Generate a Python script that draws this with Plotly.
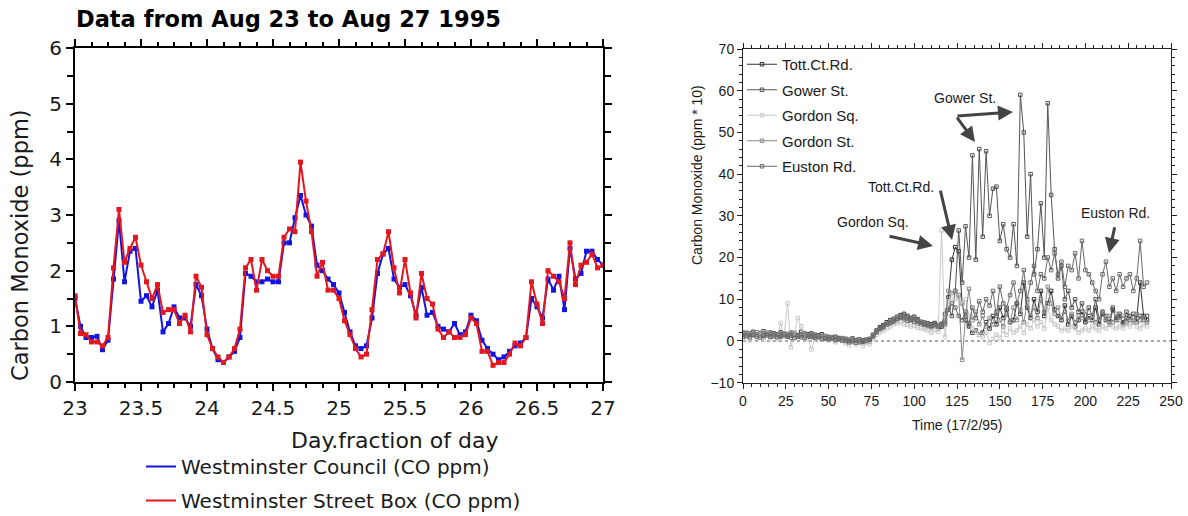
import plotly.graph_objects as go

# ---------------- Left panel data (hourly, Aug 23 - Aug 27 1995) ----------------
hours = list(range(97))
day_fraction = [23 + h / 24 for h in hours]

council_co = [
    1.5, 1.0, 0.8, 0.8, 0.82, 0.58, 0.75, 1.85, 2.9, 1.8,
    2.35, 2.4, 1.45, 1.55, 1.35, 1.65, 0.9, 1.05, 1.35, 1.15,
    1.15, 1.0, 1.75, 1.55, 0.95, 0.6, 0.4, 0.35, 0.45, 0.55,
    0.8, 1.95, 1.9, 1.8, 1.8, 1.85, 1.8, 1.8, 2.5, 2.5,
    2.95, 3.35, 3.0, 2.8, 2.1, 2.0, 1.85, 1.75, 1.6, 1.25,
    0.9, 0.65, 0.6, 0.65, 1.15, 1.95, 2.3, 2.4, 1.85, 1.7,
    1.75, 1.55, 1.2, 1.7, 1.2, 1.25, 1.0, 0.95, 0.9, 1.05,
    0.85, 0.9, 1.2, 1.1, 0.75, 0.6, 0.5, 0.4, 0.45, 0.55,
    0.65, 0.7, 0.8, 1.5, 1.35, 1.15, 1.85, 1.65, 1.9, 1.3,
    2.4, 1.85, 1.95, 2.35, 2.35, 2.2, 2.1,
]
streetbox_co = [
    1.55, 0.87, 0.85, 0.72, 0.72, 0.65, 0.8, 2.05, 3.1, 2.15,
    2.4, 2.6, 2.1, 1.8, 1.5, 1.75, 1.25, 1.3, 1.3, 1.05,
    1.2, 0.9, 1.9, 1.7, 0.85, 0.6, 0.45, 0.35, 0.45, 0.6,
    0.95, 2.05, 2.2, 1.65, 2.2, 2.0, 1.9, 1.9, 2.6, 2.75,
    2.7, 3.95, 3.25, 2.7, 1.9, 2.15, 1.65, 1.65, 1.5, 1.1,
    0.85, 0.6, 0.45, 0.5, 1.3, 2.2, 2.3, 2.7, 2.05, 1.6,
    2.2, 1.6, 1.15, 1.95, 1.5, 1.4, 0.95, 0.8, 0.9, 0.8,
    0.8, 0.85, 1.15, 1.05, 0.55, 0.55, 0.3, 0.35, 0.35, 0.5,
    0.7, 0.65, 0.8, 1.8, 1.4, 1.05, 2.0, 1.9, 1.8, 1.5,
    2.5, 1.75, 2.1, 2.15, 2.3, 2.05, 2.1,
]
left_names = ["Westminster Council (CO ppm)", "Westminster Street Box (CO ppm)"]
left_colors = ["rgb(20,20,225)", "rgb(228,22,30)"]

# ---------------- Right panel data (ppm*10, 17/2/95) ----------------
time_min = list(range(0, 238, 2))

tott_ct_rd = [
    2.0, 1.8, 1.5, 2.2, 1.6, 1.9, 2.3, 1.7, 2.0, 1.8,
    1.6, 2.1, 1.8, 1.5, 2.0, 1.9, 1.4, 2.2, 1.7, 1.6,
    1.8, 1.5, 1.3, 1.6, 1.2, 0.9, 0.8, 1.0, 0.7, 0.6,
    0.5, 0.3, 0.6, 0.2, 0.4, 0.1, 0.3, 0.5, 1.5, 2.5,
    3.3, 3.8, 4.5, 5.0, 5.3, 5.8, 6.2, 6.5, 6.0, 5.5,
    5.8, 5.2, 4.6, 4.4, 4.2, 4.0, 4.3, 3.8, 4.1, 6.5,
    10.5, 19.5, 22.5, 21.5, 9.0, 5.0, 3.5, 2.0, 2.5, 1.5,
    2.0, 4.5, 3.0, 6.0, 4.0, 8.0, 5.5, 7.5, 4.5, 5.0,
    9.0, 6.5, 14.0, 8.0, 5.5, 10.0, 7.0, 12.0, 6.0, 9.0,
    12.0, 7.5, 6.0, 5.0, 8.5, 4.0, 6.0, 3.5, 5.0, 7.0,
    4.5, 6.0, 5.0, 8.0, 4.0, 6.5, 5.0, 4.0, 7.5, 5.5,
    6.0, 4.5, 5.5, 6.0, 4.5, 5.5, 14.0, 6.0, 5.0,
]
gower_st = [
    1.5, 1.2, 1.8, 1.4, 1.6, 1.3, 1.1, 1.5, 1.2, 1.4,
    1.3, 1.0, 1.4, 1.2, 0.8, 1.5, 1.1, 0.9, 1.3, 1.0,
    1.2, 1.0, 0.8, 1.1, 0.6, 0.5, 0.7, 0.4, 0.3, 0.5,
    0.2, 0.0, -0.2, 0.1, -0.3, 0.0, 0.2, -0.1, 1.0, 2.0,
    2.8, 3.2, 3.9, 4.2, 4.6, 5.0, 5.5, 5.2, 4.8, 5.0,
    4.6, 4.2, 3.9, 3.6, 3.5, 3.3, 3.5, 3.0, 3.4, 4.5,
    8.0, 6.0, 12.0, 26.5, 14.0, 27.5, 20.0, 44.5, 19.5, 46.0,
    25.0, 45.5, 30.0, 36.5, 37.0, 24.0, 28.0, 22.0, 20.0, 28.0,
    18.0, 59.0, 50.0, 25.0, 40.0, 16.0, 22.0, 33.0, 20.0, 57.0,
    35.0, 22.0, 15.0, 18.0, 10.0, 12.0, 8.0, 10.0, 7.0, 9.0,
    5.0, 8.0, 6.0, 10.0, 5.0, 7.0, 6.0, 4.5, 8.0, 5.0,
    6.5, 4.0, 7.0, 5.0, 6.5, 4.5, 6.0, 5.0, 6.0,
]
gordon_sq = [
    0.5, 1.0, 0.2, 1.5, 0.8, 2.0, 0.3, 1.2, 0.6, 1.0,
    0.4, 4.3, 1.0, 9.0, -1.5, 2.0, 5.5, 3.5, 1.0, 0.5,
    -2.0, 0.5, 0.8, 0.3, 1.0, 0.2, 0.5, -0.3, 0.4, 0.0,
    -0.5, -1.0, -0.3, -0.8, -0.2, -1.2, -0.5, -0.8, 0.5, 1.5,
    2.0, 2.5, 3.0, 3.5, 4.0, 4.2, 4.5, 4.0, 3.8, 3.5,
    3.6, 3.2, 3.0, 2.8, 2.5, 2.0, 2.6, 2.2, 26.5, 1.0,
    9.5, 10.0, 10.0, 10.5, 9.0, 10.0, 6.0, 3.0, 2.0, 1.5,
    1.0, 2.0, -0.5, 0.5, 1.5, 0.8, 2.5, 1.5, 3.0, 2.0,
    2.5, 3.5, 2.0, 4.0, 3.0, 5.0, 3.5, 4.5, 3.0, 8.0,
    5.0, 4.0, 3.5, 2.5, 3.0, 2.5, 3.5, 3.0, 2.0, 2.5,
    3.0, 2.5, 3.5, 3.0, 2.5, 3.5, 3.0, 4.0, 3.5, 3.0,
    3.5, 3.0, 4.0, 3.5, 4.5, 3.5, 3.0, 4.0, 3.5,
]
gordon_st = [
    1.8, 2.0, 1.6, 1.9, 2.1, 1.7, 1.5, 2.0, 1.8, 1.6,
    1.5, 1.9, 1.7, 1.3, 1.8, 1.6, 1.2, 1.5, 1.9, 1.4,
    1.5, 1.3, 1.0, 1.2, 0.8, 1.0, 0.6, 0.8, 0.5, 0.7,
    0.4, 0.2, 0.5, 0.0, 0.3, -0.2, 0.1, 0.4, 1.3, 2.3,
    3.0, 3.4, 4.2, 4.6, 5.0, 5.5, 6.0, 5.8, 5.4, 5.2,
    5.5, 5.0, 4.5, 4.2, 4.0, 3.8, 4.0, 3.6, 3.9, 5.0,
    12.0, 11.5, 12.0, 11.0, -4.5, 6.0, 12.5, 5.0, 7.0, 4.0,
    6.0, 3.5, 5.5, 4.0, 7.0, 5.0, 3.5, 6.5, 4.5, 8.0,
    5.0, 7.5, 4.5, 9.0, 6.0, 8.0, 5.5, 10.0, 7.0, 13.0,
    9.0, 6.5, 8.0, 5.5, 7.0, 5.0, 6.5, 4.5, 6.0, 5.5,
    7.0, 5.0, 6.0, 4.5, 5.5, 7.0, 5.0, 6.0, 4.5, 6.5,
    5.0, 6.0, 4.5, 5.5, 5.0, 6.5, 5.0, 5.5, 4.5,
]
euston_rd = [
    1.0, 1.3, 0.9, 1.5, 1.1, 0.8, 1.2, 1.4, 1.0, 1.3,
    0.9, 1.2, 1.5, 1.0, 1.3, 0.7, 1.1, 1.4, 0.8, 1.2,
    1.0, 0.8, 1.1, 0.5, 0.7, 0.4, 0.6, 0.2, 0.4, 0.1,
    0.0, -0.3, 0.1, -0.4, -0.1, -0.2, 0.0, 0.3, 1.2, 2.2,
    3.0, 3.5, 4.0, 4.4, 4.8, 5.3, 5.8, 6.0, 5.6, 5.0,
    5.2, 4.8, 4.3, 4.0, 3.8, 3.6, 3.9, 3.5, 3.7, 4.0,
    7.5, 9.0, 8.0, 6.0, 5.0, 7.0, 4.0, 8.0, 5.5, 9.5,
    7.0, 10.0, 8.5, 12.0, 6.0, 13.0, 9.0, 8.0, 11.0, 14.0,
    9.0, 12.0, 17.0, 10.0, 14.0, 18.0, 12.0, 16.0, 15.0, 20.0,
    17.0, 21.0, 16.0, 19.0, 13.0, 18.0, 17.0, 21.0, 15.0, 24.0,
    17.0, 16.0, 14.0, 12.0, 10.0, 16.0, 19.0, 13.0, 15.0, 12.0,
    16.0, 13.0, 15.0, 16.0, 12.0, 15.0, 24.0, 13.0, 14.0,
]
right_names = ["Tott.Ct.Rd.", "Gower St.", "Gordon Sq.", "Gordon St.", "Euston Rd."]
right_series = [tott_ct_rd, gower_st, gordon_sq, gordon_st, euston_rd]
right_colors = ["#333333", "#555555", "#c8c8c8", "#8a8a8a", "#6a6a6a"]

W, H = 1188, 516
def px(x):
    return x / W
def py(y):
    return 1 - y / H

fig = go.Figure()

# left panel traces
for vals, col in zip([council_co, streetbox_co], left_colors):
    fig.add_trace(go.Scatter(
        x=day_fraction, y=vals, mode="lines+markers", xaxis="x", yaxis="y",
        line=dict(color=col, width=2), marker=dict(symbol="square", size=5, color=col),
        showlegend=False, hoverinfo="skip"))
for i, (name, col) in enumerate(zip(left_names, left_colors)):
    fig.add_trace(go.Scatter(
        x=[None], y=[None], mode="lines", name=name, xaxis="x", yaxis="y",
        line=dict(color=col, width=2), legend="legend", legendgroup="L%d" % i))

# right panel traces
for i, (name, vals, col) in enumerate(zip(right_names, right_series, right_colors)):
    fig.add_trace(go.Scatter(
        x=time_min, y=vals, mode="lines+markers", name=name, xaxis="x2", yaxis="y2",
        line=dict(color=col, width=1),
        marker=dict(symbol="square-open", size=3.5, color=col, line=dict(width=1, color=col)),
        legend="legend2", legendgroup="R%d" % i))

left_font = dict(family="DejaVu Sans", size=20, color="#1a1a1a")
right_font = dict(family="Liberation Sans", size=14, color="#1a1a1a")

fig.update_layout(
    width=W, height=H, margin=dict(l=0, r=0, t=0, b=0, autoexpand=False),
    paper_bgcolor="white", plot_bgcolor="white",
    xaxis=dict(domain=[px(75), px(603)], range=[23, 27], anchor="y", automargin=False,
               showline=True, linecolor="black", linewidth=2, mirror="ticks",
               ticks="outside", ticklen=7, tickwidth=2, tickcolor="black",
               tick0=23, dtick=0.5, tickfont=left_font, showgrid=False, zeroline=False,
               minor=dict(dtick=0.125, ticks="outside", ticklen=4, tickwidth=1.5,
                          tickcolor="black", showgrid=False)),
    yaxis=dict(domain=[py(382), py(48)], range=[0, 6], anchor="x", automargin=False,
               showline=True, linecolor="black", linewidth=2, mirror="ticks",
               ticks="outside", ticklen=7, tickwidth=2, tickcolor="black",
               dtick=1, tickfont=left_font, showgrid=False, zeroline=False,
               minor=dict(dtick=0.5, ticks="outside", ticklen=6, tickwidth=1.5,
                          tickcolor="black", showgrid=False)),
    xaxis2=dict(domain=[px(743), px(1171)], range=[0, 250], anchor="y2", automargin=False,
                showline=True, linecolor="#222", linewidth=1, mirror="ticks",
                ticks="outside", ticklen=5, tickcolor="#222",
                dtick=25, tickfont=right_font, showgrid=False, zeroline=False,
                minor=dict(dtick=5, ticks="outside", ticklen=3, tickcolor="#222",
                           showgrid=False)),
    yaxis2=dict(domain=[py(382.7), py(49)], range=[-10, 70], anchor="x2", automargin=False,
                showline=True, linecolor="#222", linewidth=1, mirror="ticks",
                ticks="outside", ticklen=5, tickcolor="#222",
                dtick=10, tickfont=right_font, showgrid=False, zeroline=False,
                minor=dict(dtick=2, ticks="outside", ticklen=3, tickcolor="#222",
                           showgrid=False)),
    legend=dict(x=px(141), y=py(447), xanchor="left", yanchor="top",
                bgcolor="rgba(0,0,0,0)", font=dict(family="DejaVu Sans", size=20, color="#1a1a1a"),
                traceorder="grouped", tracegroupgap=5, itemwidth=30),
    legend2=dict(x=px(742), y=py(48), xanchor="left", yanchor="top",
                 bgcolor="rgba(0,0,0,0)", font=dict(family="Liberation Sans", size=15, color="#1a1a1a"),
                 traceorder="grouped", tracegroupgap=3, itemwidth=30),
    shapes=[dict(type="line", xref="x2", yref="y2", x0=0, x1=250, y0=0, y1=0,
                 line=dict(color="#555", width=1, dash="dot"), layer="below")],
)

ann = []
# titles
ann.append(dict(text="<b>Data from Aug 23 to Aug 27 1995</b>", xref="paper", yref="paper",
                x=px(74), y=py(19), xanchor="left", yanchor="middle", showarrow=False,
                font=dict(family="DejaVu Sans", size=22.5, color="black")))
ann.append(dict(text="Day.fraction of day", xref="paper", yref="paper",
                x=px(394), y=py(440), xanchor="center", yanchor="middle", showarrow=False,
                font=dict(family="DejaVu Sans", size=22, color="#1a1a1a")))
ann.append(dict(text="Carbon Monoxide (ppm)", xref="paper", yref="paper", textangle=-90,
                x=px(20), y=py(245), xanchor="center", yanchor="middle", showarrow=False,
                font=dict(family="DejaVu Sans", size=22.5, color="#1a1a1a")))
ann.append(dict(text="Time (17/2/95)", xref="paper", yref="paper",
                x=px(957), y=py(425), xanchor="center", yanchor="middle", showarrow=False,
                font=dict(family="Liberation Sans", size=14, color="#1a1a1a")))
ann.append(dict(text="Carbon Monoxide (ppm * 10)", xref="paper", yref="paper", textangle=-90,
                x=px(697), y=py(175), xanchor="center", yanchor="middle", showarrow=False,
                font=dict(family="Liberation Sans", size=14, color="#1a1a1a")))

# callout labels (data coords of right panel)
labels = [("Gower St.", 129.7, 58.2), ("Tott.Ct.Rd.", 92.0, 36.8),
          ("Gordon Sq.", 75.9, 28.6), ("Euston Rd.", 217.8, 30.8)]
for text, xx, yy in labels:
    ann.append(dict(text=text, xref="x2", yref="y2", x=xx, y=yy, showarrow=False,
                    font=dict(family="Liberation Sans", size=14, color="#1a1a1a")))
arrows = [((124.4, 53.9), (135.5, 47.7)), ((124.4, 53.9), (157.7, 54.9)),
          ((115.1, 36.4), (122.1, 24.2)), ((84.7, 25.2), (111.0, 22.8)),
          ((217.3, 27.6), (213.8, 21.1))]
for (tx, ty), (hx, hy) in arrows:
    ann.append(dict(text="", xref="x2", yref="y2", axref="x2", ayref="y2",
                    x=hx, y=hy, ax=tx, ay=ty, showarrow=True, arrowhead=2,
                    arrowsize=1, arrowwidth=3, arrowcolor="#444", standoff=0, startstandoff=0))
fig.update_layout(annotations=ann)

# remove the browser's default 8px page margin so the figure sits at the window origin
fig.write_html("out.html", config={"displayModeBar": False},
               post_script="document.body.style.margin='0px';")
